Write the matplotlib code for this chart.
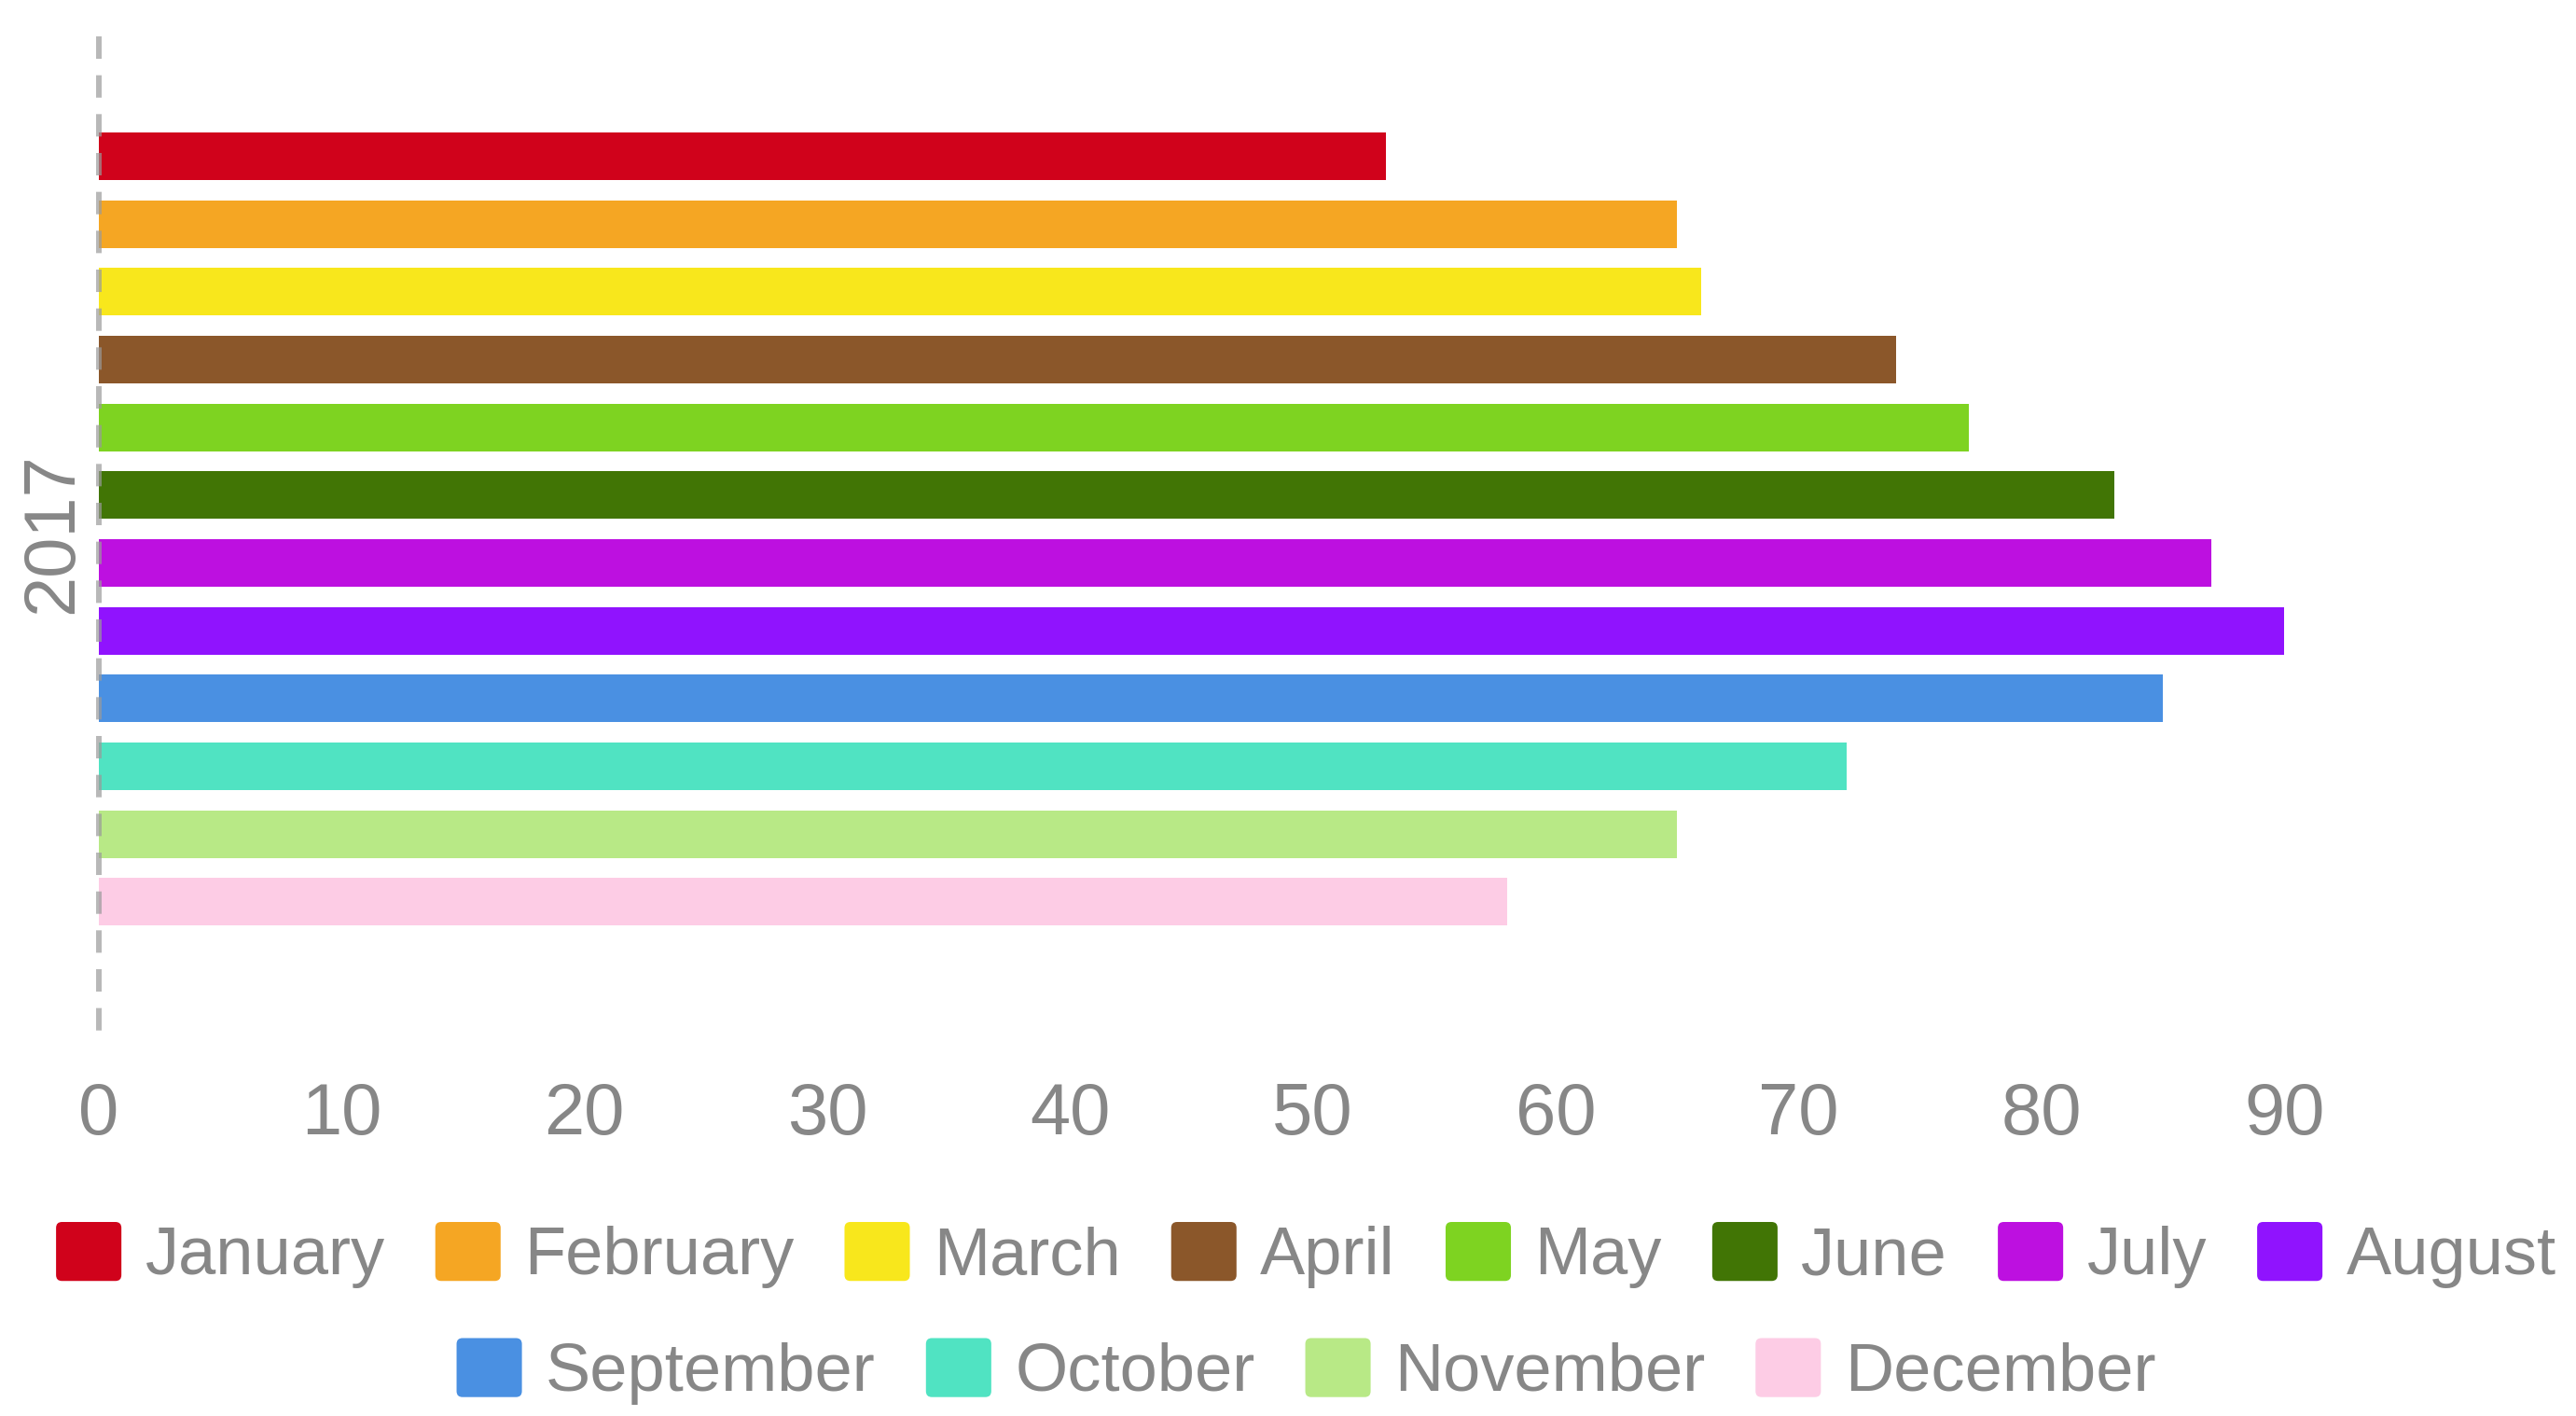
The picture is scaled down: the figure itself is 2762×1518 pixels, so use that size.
import matplotlib
matplotlib.use("Agg")
import matplotlib.pyplot as plt
from matplotlib.legend_handler import HandlerPatch
from matplotlib.patches import FancyBboxPatch, Rectangle

plt.rcParams['font.family'] = ['Liberation Sans', 'DejaVu Sans']

category = "2017"
months = ["January", "February", "March", "April", "May", "June",
          "July", "August", "September", "October", "November", "December"]
values = [53, 65, 66, 74, 77, 83, 87, 90, 85, 72, 65, 58]
colors = ["#d0021b", "#f5a623", "#f8e71c", "#8b572a", "#7ed321", "#417505",
          "#bd10e0", "#9013fe", "#4a90e2", "#50e3c2", "#b8e986", "#fdcce5"]
xticks = [0, 10, 20, 30, 40, 50, 60, 70, 80, 90]

TXT = "#878787"

fig = plt.figure(figsize=(27.62, 15.18), dpi=100)
ax = fig.add_axes([0.0383, 0.2655, 0.9427, 0.7088])

handles = []
for i, (m, v, c) in enumerate(zip(months, values, colors)):
    bc = ax.barh(i, v, height=0.70, color=c, label=m, zorder=2)
    handles.append(bc.patches[0])

ylo, yhi = 13.04, -1.77
ax.set_ylim(ylo, yhi)
ax.set_xlim(0, 100)

# dashed zero line, drawn over bars, starting from the top
ax.plot([0, 0], [1, 0], transform=ax.get_xaxis_transform(), color="#9a9a9a",
        alpha=0.7, lw=4.3, linestyle=(0, (17.3 / 4.3, 12.7 / 4.3)),
        solid_capstyle='butt', dash_capstyle='butt', zorder=5, clip_on=False)

for s in ax.spines.values():
    s.set_visible(False)

ax.set_xticks(xticks)
ax.set_xticklabels([str(t) for t in xticks])
ax.set_yticks([(ylo + yhi) / 2 - 0.08])
ax.set_yticklabels([category], rotation=90, va='center')
ax.tick_params(axis='x', length=0, pad=32, labelsize=56, labelcolor=TXT)
ax.tick_params(axis='y', length=0, pad=9, labelsize=56, labelcolor=TXT)


class RoundHandler(HandlerPatch):
    def create_artists(self, legend, orig_handle, xdescent, ydescent,
                       width, height, fontsize, trans):
        p = FancyBboxPatch((-xdescent, -ydescent), width, height,
                           boxstyle=f"round,pad=0,rounding_size={0.1 * height}",
                           facecolor=orig_handle.get_facecolor(),
                           edgecolor='none', transform=trans)
        return [p]


common = dict(loc='center', frameon=False, handlelength=0.97, handleheight=0.97,
              handletextpad=0.35, columnspacing=0.75, borderpad=0, borderaxespad=0,
              fontsize=52, labelcolor=TXT, handler_map={Rectangle: RoundHandler()},
              bbox_transform=fig.transFigure)

leg1 = ax.legend(handles[:8], months[:8], ncol=8, bbox_to_anchor=(0.507, 0.1135), **common)
leg2 = fig.legend(handles[8:], months[8:], ncol=4, bbox_to_anchor=(0.507, 0.0315), **common)

fig.savefig("out.png", dpi=100)
